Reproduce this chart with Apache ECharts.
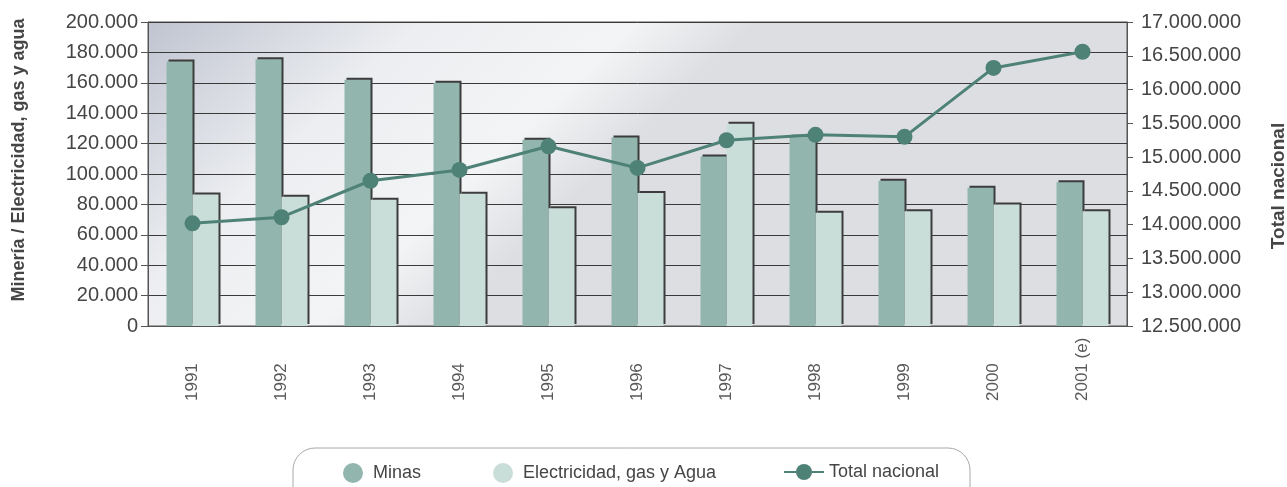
<!DOCTYPE html>
<html>
<head>
<meta charset="utf-8">
<style>
  html, body { margin: 0; padding: 0; background: #fff; }
  #chart { width: 1287px; height: 487px; }
</style>
<script src="https://cdn.jsdelivr.net/npm/echarts@6/dist/echarts.min.js"></script>
</head>
<body>
<div id="chart"></div>
<script>
// datos
var years = ['1991', '1992', '1993', '1994', '1995', '1996', '1997', '1998', '1999', '2000', '2001 (e)'];
var minas = [174000, 175500, 162000, 160000, 122500, 124000, 111500, 124500, 95500, 91000, 94500];
var electricidad = [86500, 85000, 83000, 87000, 77500, 87500, 133000, 74500, 75500, 80000, 75500];
var totalNacional = [14020000, 14110000, 14650000, 14810000, 15160000, 14840000, 15250000, 15330000, 15300000, 16320000, 16560000];

var leftTicks = { min: 0, max: 200000, interval: 20000 };
var rightTicks = { min: 12500000, max: 17000000, interval: 500000 };

function fmt(v) {
    return String(v).replace(/\B(?=(\d{3})+(?!\d))/g, '.');
}

var txt = '#454545';
var font = 'Liberation Sans';

var barShadow = {
    shadowColor: '#3c3c3c',
    shadowBlur: 0,
    shadowOffsetX: 2,
    shadowOffsetY: -2
};

var legendBase = {
    top: 458,
    itemHeight: 20,
    textStyle: { color: txt, fontSize: 18, fontFamily: font },
    itemStyle: { shadowColor: 'rgba(0,0,0,0)', shadowBlur: 0, shadowOffsetX: 0, shadowOffsetY: 0 }
};

var option = {
    backgroundColor: '#fff',
    animation: false,
    grid: {
        left: 148,
        right: 160,
        top: 22,
        bottom: 161,
        outerBoundsMode: 'none',
        show: true,
        borderColor: '#555',
        borderWidth: 1,
        backgroundColor: {
            type: 'linear', x: 0, y: 0, x2: 0.3, y2: 1,
            colorStops: [
                { offset: 0, color: '#c0c4d0' },
                { offset: 0.45, color: '#eceef1' },
                { offset: 0.8, color: '#f3f4f5' },
                { offset: 1, color: '#dcdee2' }
            ]
        }
    },
    graphic: [{
        type: 'rect',
        shape: { x: 293, y: 448, width: 677, height: 60, r: 22 },
        style: { fill: '#fff', stroke: '#a8a8a8', lineWidth: 1 },
        z: -1
    }],
    legend: [
        Object.assign({ left: 338, itemWidth: 30, data: [{ name: 'Minas', icon: 'circle' }] }, legendBase),
        Object.assign({ left: 488, itemWidth: 30, data: [{ name: 'Electricidad, gas y Agua', icon: 'circle' }] }, legendBase),
        Object.assign({ left: 778, itemWidth: 40, data: ['Total nacional'] }, legendBase)
    ],
    xAxis: {
        type: 'category',
        data: years,
        axisLine: { lineStyle: { color: '#555' } },
        axisTick: { length: 8, lineStyle: { color: '#555' } },
        axisLabel: {
            rotate: 90,
            align: 'left',
            verticalAlign: 'middle',
            margin: 75,
            color: '#5a5a5a',
            fontSize: 17,
            fontFamily: font
        }
    },
    yAxis: [{
        type: 'value',
        min: leftTicks.min,
        max: leftTicks.max,
        interval: leftTicks.interval,
        name: 'Minería / Electricidad, gas y agua',
        nameLocation: 'middle',
        nameRotate: 90,
        nameGap: 120,
        nameTextStyle: { color: txt, fontSize: 18, fontWeight: 'bold', fontFamily: font, padding: [0, 0, 0, 28] },
        axisLine: { show: true, lineStyle: { color: '#555' } },
        axisTick: { show: true, length: 7, lineStyle: { color: '#555' } },
        axisLabel: { color: txt, fontSize: 20, fontFamily: font, margin: 10, formatter: fmt },
        splitLine: { lineStyle: { color: '#3a3a3a', width: 1 } }
    }, {
        type: 'value',
        position: 'right',
        min: rightTicks.min,
        max: rightTicks.max,
        interval: rightTicks.interval,
        name: 'Total nacional',
        nameLocation: 'middle',
        nameRotate: 90,
        nameGap: 142,
        nameTextStyle: { color: txt, fontSize: 19, fontWeight: 'bold', fontFamily: font, padding: [0, 24, 0, 0] },
        axisLine: { show: true, lineStyle: { color: '#555' } },
        axisTick: { show: true, length: 6, lineStyle: { color: '#555' } },
        axisLabel: { color: txt, fontSize: 20, fontFamily: font, margin: 14, formatter: fmt },
        splitLine: { show: false }
    }],
    series: [{
        name: 'Minas',
        type: 'bar',
        barWidth: 26,
        barGap: 0,
        itemStyle: Object.assign({ color: '#92b6ae' }, barShadow),
        data: minas
    }, {
        name: 'Electricidad, gas y Agua',
        type: 'bar',
        barWidth: 26,
        itemStyle: Object.assign({ color: '#c9ddd9' }, barShadow),
        data: electricidad
    }, {
        name: 'Total nacional',
        type: 'line',
        yAxisIndex: 1,
        symbol: 'circle',
        symbolSize: 16,
        z: 5,
        lineStyle: { color: '#4f8277', width: 3 },
        itemStyle: { color: '#4f8277' },
        data: totalNacional
    }]
};

var myChart = echarts.init(document.getElementById('chart'));
myChart.setOption(option);
</script>
</body>
</html>
